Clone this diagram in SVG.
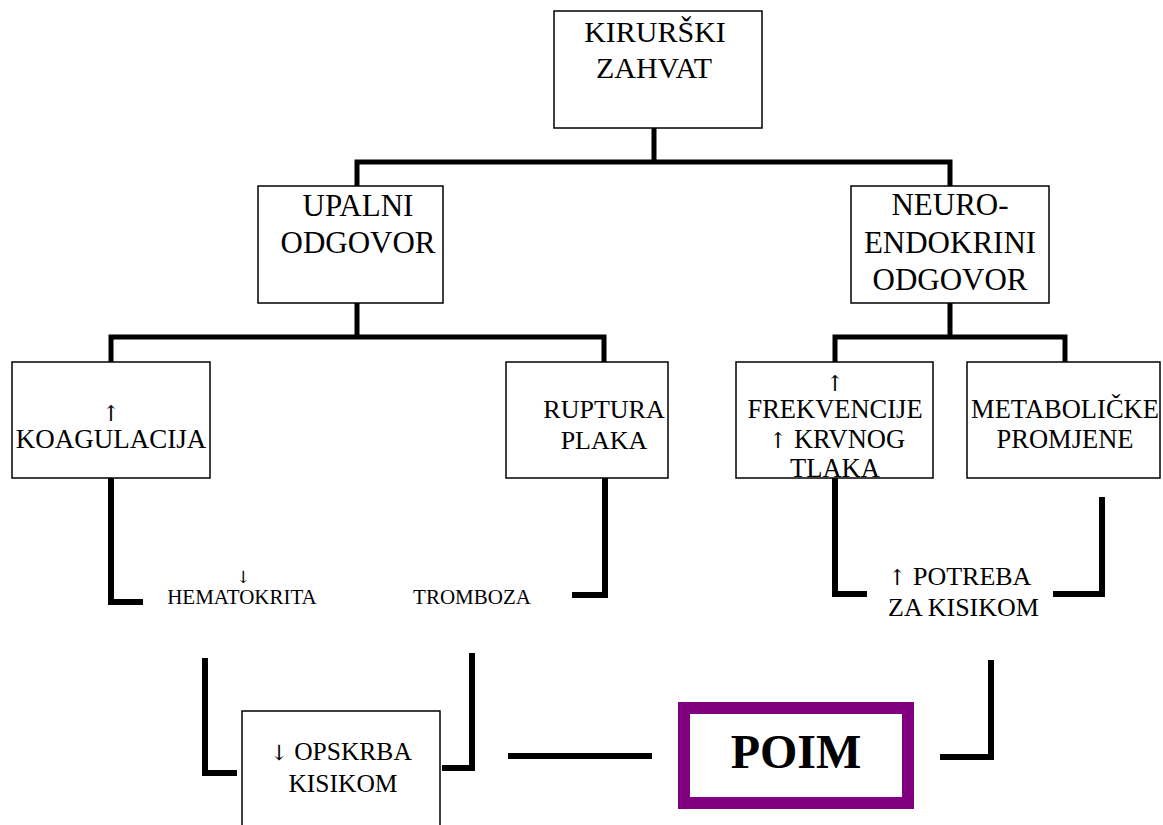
<svg xmlns="http://www.w3.org/2000/svg" width="1163" height="825" viewBox="0 0 1163 825">
<style>
text{font-family:'Liberation Serif','Times New Roman',serif;fill:#000;text-anchor:middle}
.s{text-anchor:start}
.ar{font-family:'DejaVu Serif','Liberation Serif',serif}
.c{fill:none;stroke:#000;stroke-width:5;stroke-linejoin:miter;stroke-linecap:butt}
.c6{stroke-width:6}
.box{fill:#fff;stroke:#000;stroke-width:1.5}
</style>
<rect width="1163" height="825" fill="#fff"/>
<g id="connectors">
<path class="c" d="M654,128V162M357,186V162H950V186"/>
<path class="c" d="M357,303V337M111,362V337H604V362"/>
<path class="c" d="M950,303V337M835,362V337H1065V362"/>
<path class="c c6" d="M111,478V602H143"/>
<path class="c c6" d="M605,478V595H572"/>
<path class="c c6" d="M835,478V594H867"/>
<path class="c c6" d="M1102,497V594H1053"/>
<path class="c c6" d="M205,658V773H237"/>
<path class="c c6" d="M472,653V768H442"/>
<path class="c c6" d="M508,756H652"/>
<path class="c c6" d="M940,757H991V660"/>
</g>
<g id="kirurski">
<rect class="box" x="554" y="11" width="208" height="117"/>
<text font-size="30" x="655" y="42">KIRURŠKI</text>
<text font-size="30" x="654" y="78">ZAHVAT</text>
</g>
<g id="upalni">
<rect class="box" x="258" y="186" width="185" height="117"/>
<text font-size="31" x="358" y="216">UPALNI</text>
<text font-size="31" x="358" y="253">ODGOVOR</text>
</g>
<g id="neuro">
<rect class="box" x="851" y="186" width="198" height="117"/>
<text font-size="31" x="950" y="215">NEURO-</text>
<text font-size="31" x="950" y="253">ENDOKRINI</text>
<text font-size="31" x="950" y="290">ODGOVOR</text>
</g>
<g id="koagulacija">
<rect class="box" x="12" y="362" width="198" height="116"/>
<text class="ar" font-size="22" x="111" y="421">↑</text>
<text font-size="27" x="111" y="448">KOAGULACIJA</text>
</g>
<g id="ruptura">
<rect class="box" x="506" y="362" width="162" height="116"/>
<text font-size="26" x="604" y="418">RUPTURA</text>
<text font-size="26" x="604" y="449">PLAKA</text>
</g>
<g id="frekvencije">
<rect class="box" x="736" y="362" width="197" height="116"/>
<text class="ar" font-size="22" x="835" y="391">↑</text>
<text font-size="26.5" x="835" y="418">FREKVENCIJE</text>
<text font-size="26.5" x="837" y="448"><tspan class="ar" font-size="22">↑</tspan> KRVNOG</text>
<text font-size="26.5" x="835" y="477">TLAKA</text>
</g>
<g id="metabolicke">
<rect class="box" x="967" y="362" width="193" height="116"/>
<text font-size="26.5" x="1065" y="418">METABOLIČKE</text>
<text font-size="26.5" x="1065" y="448">PROMJENE</text>
</g>
<g id="hematokrita">
<text class="ar" font-size="17" x="243" y="583">↓</text>
<text font-size="21" x="242" y="604">HEMATOKRITA</text>
</g>
<g id="tromboza">
<text font-size="21" x="472" y="604">TROMBOZA</text>
</g>
<g id="potreba">
<text class="s" font-size="26" x="888" y="585"><tspan class="ar" font-size="22">↑</tspan> POTREBA</text>
<text class="s" font-size="26" x="888" y="616">ZA KISIKOM</text>
</g>
<g id="opskrba">
<rect class="box" x="242" y="711" width="198" height="130"/>
<text font-size="25.5" x="341" y="760"><tspan class="ar" font-size="21">↓</tspan> OPSKRBA</text>
<text font-size="25.5" x="343" y="792">KISIKOM</text>
</g>
<g id="poim">
<rect x="684" y="708" width="224" height="95" fill="#fff" stroke="#800080" stroke-width="12"/>
<text font-size="48" font-weight="bold" x="796" y="768">POIM</text>
</g>
</svg>
